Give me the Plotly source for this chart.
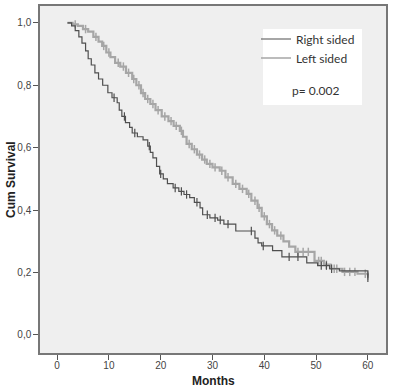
import plotly.graph_objects as go
import numpy as np

# ---- data (Kaplan-Meier steps) ----
right_t = [2.0, 2.8, 3.5, 4.2, 4.8, 5.5, 6.0, 6.6, 7.3, 8.0, 8.8, 9.8, 10.6, 11.6, 12.0,
           12.5, 13.2, 14.0, 14.5, 15.5, 16.6, 17.5, 18.0, 18.5, 19.2, 19.8, 20.5, 21.3,
           22.4, 23.5, 24.5, 25.6, 26.5, 27.6, 28.1, 29.5, 31.0, 32.2, 34.5, 38.2, 38.8,
           39.5, 41.6, 43.4, 48.2, 50.3, 52.6, 54.5, 60.0]
right_s = [1.0, 0.99, 0.975, 0.955, 0.935, 0.91, 0.885, 0.865, 0.84, 0.82, 0.80, 0.776,
           0.76, 0.744, 0.72, 0.70, 0.68, 0.665, 0.647, 0.635, 0.625, 0.605, 0.585, 0.567,
           0.54, 0.516, 0.50, 0.485, 0.471, 0.46, 0.45, 0.44, 0.425, 0.407, 0.385, 0.375,
           0.368, 0.355, 0.333, 0.31, 0.295, 0.285, 0.27, 0.25, 0.231, 0.222, 0.212,
           0.205, 0.183]
right_cens = [11.0, 13.0, 15.0, 17.8, 20.0, 22.8, 24.0, 25.0, 27.0, 29.0, 30.5, 31.5,
              33.0, 37.5, 39.8, 44.8, 46.5, 51.0, 52.0, 53.0, 60.0]

left_t = [2.0, 3.0, 4.0, 5.0, 6.0, 7.0, 8.0, 8.7, 9.5, 10.3, 11.2, 12.2, 13.3, 14.5,
          15.3, 16.2, 17.0, 18.0, 19.0, 20.2, 21.5, 22.5, 23.7, 24.3, 25.0, 26.0, 27.0,
          28.0, 28.9, 30.0, 31.4, 32.5, 33.9, 35.2, 36.6, 37.5, 38.7, 39.5, 40.5, 41.5,
          42.5, 43.7, 44.8, 46.0, 49.7, 51.5, 52.8, 55.1, 58.0, 60.0]
left_s = [1.0, 0.995, 0.99, 0.98, 0.972, 0.955, 0.94, 0.926, 0.905, 0.89, 0.872, 0.86,
          0.84, 0.82, 0.80, 0.775, 0.756, 0.74, 0.72, 0.70, 0.685, 0.67, 0.654, 0.635,
          0.612, 0.595, 0.578, 0.562, 0.548, 0.537, 0.526, 0.505, 0.484, 0.468, 0.452,
          0.43, 0.407, 0.38, 0.355, 0.335, 0.318, 0.30, 0.283, 0.266, 0.237, 0.225,
          0.212, 0.202, 0.196, 0.19]
left_cens = [3.5, 5.5, 7.5, 9.0, 10.0, 11.8, 12.8, 13.8, 14.8, 15.8, 16.6, 17.5, 18.5,
             19.5, 20.8, 22.0, 23.0, 24.0, 25.5, 26.5, 27.5, 28.5, 29.5, 30.5, 31.8,
             33.0, 34.5, 35.8, 37.0, 38.2, 39.0, 40.0, 41.0, 42.0, 43.2, 46.5, 47.5,
             48.5, 50.5, 51.0, 52.0, 53.5, 54.0, 55.5, 56.5, 57.5, 59.5, 60.0]

y_tickvals = [0.0, 0.2, 0.4, 0.6, 0.8, 1.0]
y_ticktext = ["0,0", "0,2", "0,4", "0,6", "0,8", "1,0"]
x_tickvals = [0, 10, 20, 30, 40, 50, 60]

DARK = "#4f4f4f"
LIGHT = "#a6a6a6"

W, H = 394, 388
ML, MR, MT, MB = 40, 8, 6, 35
PW = W - ML - MR
PH = H - MT - MB
DY = 2  # observed render offset


def px(x):
    return (x - ML) / PW


def py(y):
    return (H - MB - (y + DY)) / PH


def step_value(times, surv, tc):
    idx = np.searchsorted(np.array(times), tc, side="right") - 1
    return [surv[max(i, 0)] for i in idx]


fig = go.Figure()

fig.add_trace(go.Scatter(x=left_t, y=left_s, mode="lines", line_shape="hv",
                         line=dict(color=LIGHT, width=2.2), name="Left sided",
                         showlegend=False))
fig.add_trace(go.Scatter(x=left_cens, y=step_value(left_t, left_s, left_cens),
                         mode="markers", marker=dict(symbol="line-ns", size=6,
                                                     line=dict(color=LIGHT, width=1.5)),
                         showlegend=False, hoverinfo="skip"))
fig.add_trace(go.Scatter(x=right_t, y=right_s, mode="lines", line_shape="hv",
                         line=dict(color=DARK, width=1.2), name="Right sided",
                         showlegend=False))
fig.add_trace(go.Scatter(x=right_cens, y=step_value(right_t, right_s, right_cens),
                         mode="markers", marker=dict(symbol="line-ns", size=6,
                                                     line=dict(color=DARK, width=1.2)),
                         showlegend=False, hoverinfo="skip"))

# legend entries (order: Right, Left)
fig.add_trace(go.Scatter(x=[None], y=[None], mode="lines", line_shape="hv",
                         line=dict(color=DARK, width=1.2), name="Right sided"))
fig.add_trace(go.Scatter(x=[None], y=[None], mode="lines", line_shape="hv",
                         line=dict(color=LIGHT, width=1.5), name="Left sided"))

fig.update_layout(
    width=W, height=H,
    margin=dict(l=ML, r=MR, t=MT, b=MB, autoexpand=False),
    paper_bgcolor="white",
    plot_bgcolor="#efefef",
    font=dict(family="Arial, Liberation Sans", color="#333"),
    showlegend=True,
    legend=dict(x=px(256), y=py(22.5), xanchor="left", yanchor="top",
                bgcolor="rgba(0,0,0,0)", itemwidth=30,
                font=dict(family="Lato, Open Sans", size=12, color="#333"),
                tracegroupgap=0),
    shapes=[dict(type="rect", xref="paper", yref="paper",
                 x0=px(263), x1=px(362), y0=py(103), y1=py(27),
                 fillcolor="white", line=dict(width=0), layer="above")],
    annotations=[
        dict(text="p= 0.002", xref="paper", yref="paper", x=px(315), y=py(88),
             xanchor="center", yanchor="middle", showarrow=False,
             font=dict(family="Lato, Open Sans", size=12, color="#333")),
        dict(text="<b>Months</b>", xref="paper", yref="paper", x=px(213), y=py(379),
             xanchor="center", yanchor="middle", showarrow=False,
             font=dict(family="Arial, Liberation Sans", size=12, color="#222")),
        dict(text="<b>Cum Survival</b>", xref="paper", yref="paper",
             x=px(11), y=py(178), textangle=-90, xanchor="center", yanchor="middle",
             showarrow=False,
             font=dict(family="Arial, Liberation Sans", size=12, color="#222")),
    ],
    xaxis=dict(range=[-3.3, 63.5], tickvals=x_tickvals, ticks="outside", ticklen=5,
               tickcolor="#555", showgrid=False, zeroline=False, showline=True,
               linecolor="#777", linewidth=1.5, mirror=True, automargin=False,
               ticklabelstandoff=-3,
               tickfont=dict(size=10, color="#444")),
    yaxis=dict(range=[-0.058, 1.054], tickvals=y_tickvals, ticktext=y_ticktext,
               ticks="outside", ticklen=5, tickcolor="#555", showgrid=False,
               zeroline=False, showline=True, linecolor="#777", linewidth=1.5,
               mirror=True, automargin=False, tickfont=dict(size=10, color="#444")),
)

fig.write_html("out.html", config={"displayModeBar": False},
               post_script="document.body.style.margin='0';document.body.style.overflow='hidden';")
